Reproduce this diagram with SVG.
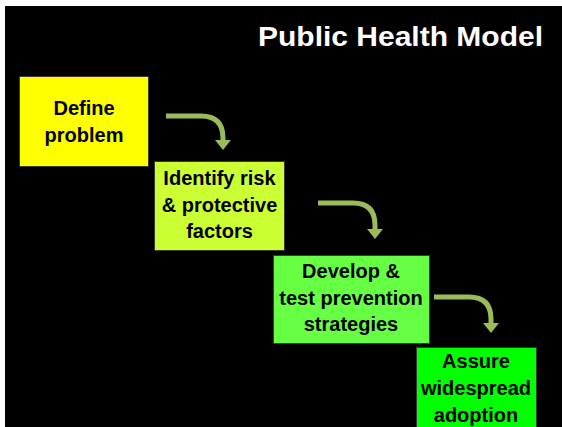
<svg xmlns="http://www.w3.org/2000/svg" width="562" height="427" viewBox="0 0 562 427">
<style>
.box{stroke:#3a3a3a;stroke-width:1}
.lbl{font-family:"Liberation Sans",Arial,sans-serif;font-weight:bold;font-size:20px;fill:#000;text-anchor:middle}
.shaft{fill:none;stroke:#9BBB59;stroke-width:5}
.head{fill:#9BBB59}
</style>
<rect x="0" y="0" width="562" height="427" fill="#ffffff"/>
<rect x="5" y="6" width="557" height="421" fill="#000000"/>
<text x="543" y="46" text-anchor="end" font-family="'Liberation Sans',Arial,sans-serif" font-weight="bold" font-size="28" fill="#ffffff" textLength="285" lengthAdjust="spacingAndGlyphs">Public Health Model</text>
<g id="connectors">
  <path class="shaft" d="M166,116 H201 Q223,116 223,138 V141"/>
  <polygon class="head" points="215,140 231,140 223,150"/>
  <path class="shaft" d="M318,203 H353 Q375,203 375,225 V230"/>
  <polygon class="head" points="367,229 383,229 375,239"/>
  <path class="shaft" d="M434,297 H469 Q491,297 491,319 V324"/>
  <polygon class="head" points="483,323 499,323 491,333"/>
</g>
<g id="define">
  <rect class="box" x="19.5" y="76.5" width="129" height="90" fill="#FFFF00"/>
  <text class="lbl" x="84" y="115">Define</text>
  <text class="lbl" x="84" y="142">problem</text>
</g>
<g id="identify">
  <rect class="box" x="154.5" y="161.5" width="130" height="89" fill="#CCFF33"/>
  <text class="lbl" x="219.5" y="185">Identify risk</text>
  <text class="lbl" x="219.5" y="212">&amp; protective</text>
  <text class="lbl" x="219.5" y="238">factors</text>
</g>
<g id="develop">
  <rect class="box" x="273.5" y="255.5" width="156" height="88" fill="#66FF44"/>
  <text class="lbl" x="351" y="278">Develop &amp;</text>
  <text class="lbl" x="351" y="305">test prevention</text>
  <text class="lbl" x="351" y="331">strategies</text>
</g>
<g id="assure">
  <rect class="box" x="416.5" y="347.5" width="120" height="85" fill="#00FF00"/>
  <text class="lbl" x="476" y="368">Assure</text>
  <text class="lbl" x="476" y="395">widespread</text>
  <text class="lbl" x="476" y="422">adoption</text>
</g>
</svg>
